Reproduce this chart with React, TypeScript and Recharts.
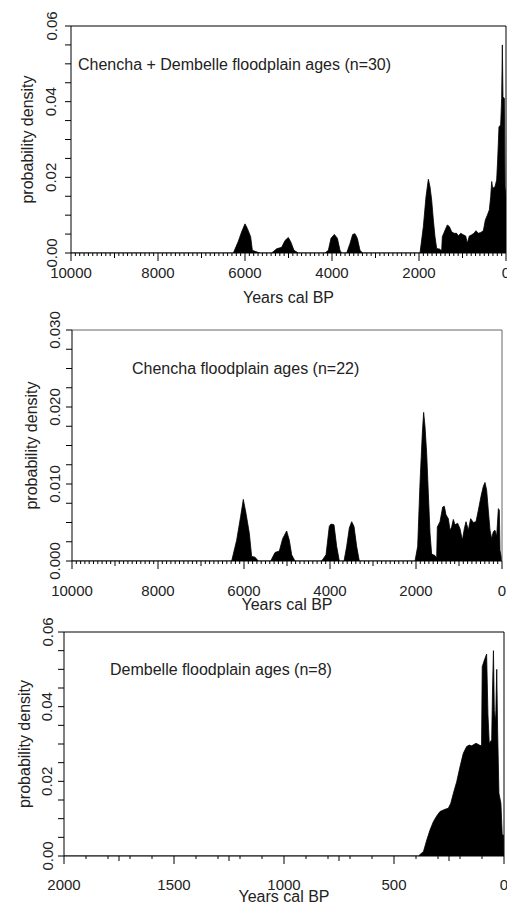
import React from 'react';
import { ComposedChart, Area, XAxis, YAxis, ReferenceLine, Label } from 'recharts';

const FONT = '"Liberation Sans", Arial, Helvetica, sans-serif';
const INK = '#000';
const TEXT = '#222';

// Summed probability, Chencha + Dembelle floodplain ages (years cal BP -> density)
const ALL_YEARS = [
  10000, 6268, 6153, 6077, 6000, 5946, 5870, 5831, 5732, 5655,
  5387, 5272, 5157, 5080, 5004, 4950, 4874, 4774,
  4161, 4084, 4023, 3946, 3877, 3816, 3778,
  3663, 3586, 3525, 3471, 3418, 3356, 3295,
  1977, 1900, 1839, 1785, 1747, 1709, 1670, 1632, 1594, 1517, 1479,
  1464, 1402, 1349, 1303, 1249, 1195, 1134, 1096, 1042, 981, 927, 889, 843, 789, 736, 690,
  636, 582, 521, 475, 429, 383, 352, 329, 307, 253, 215, 192, 161, 123, 100, 84, 69, 38, 23, 0,
];
const ALL_DENS = [
  0, 0, 0.0031, 0.0056, 0.0077, 0.0065, 0.0043, 0.0007, 0.0003, 0,
  0, 0.0011, 0.0015, 0.0033, 0.0041, 0.003, 0.0007, 0,
  0, 0.0007, 0.0039, 0.0049, 0.0039, 0.0007, 0,
  0, 0.0025, 0.0049, 0.0051, 0.0039, 0.0007, 0,
  0, 0.007, 0.0149, 0.0195, 0.0175, 0.014, 0.0087, 0.0043, 0.0012, 0.001, 0.0005,
  0.0043, 0.006, 0.0074, 0.007, 0.0056, 0.0052, 0.0052, 0.0045, 0.0052, 0.0048, 0.0045, 0.0026, 0.0045, 0.0048, 0.0052, 0.0059,
  0.0052, 0.0054, 0.0059, 0.0087, 0.01, 0.0114, 0.0149, 0.0189, 0.0171, 0.0175, 0.0193, 0.0246, 0.0334, 0.0338, 0.0409, 0.055, 0.0413, 0.0409, 0.0175, 0.015,
];

// Chencha floodplain ages
const CH_YEARS = [
  10000, 6287, 6171, 6078, 6016, 5954, 5876, 5822, 5744, 5667,
  5380, 5279, 5178, 5101, 5008, 4946, 4891, 4814,
  4194, 4093, 4016, 3977, 3907, 3845, 3783,
  3674, 3612, 3550, 3496, 3442, 3380, 3318,
  2023, 1961, 1907, 1853, 1822, 1791, 1752, 1713, 1674, 1636, 1558, 1519,
  1504, 1442, 1380, 1341, 1302, 1248, 1209, 1171, 1132, 1093, 1031, 977, 922, 876, 837, 783, 729, 667, 605,
  550, 488, 434, 395, 357, 318, 279, 240, 202, 163, 124, 85, 62, 47, 0,
];
const CH_DENS = [
  0, 0, 0.0027, 0.0058, 0.008, 0.0062, 0.0036, 0.0006, 0.0005, 0,
  0, 0.0011, 0.0013, 0.0029, 0.0039, 0.0027, 0.0008, 0,
  0, 0.0008, 0.0045, 0.0048, 0.0047, 0.0019, 0,
  0, 0.0019, 0.0043, 0.0051, 0.0045, 0.0019, 0,
  0, 0.0019, 0.0101, 0.0166, 0.0193, 0.0175, 0.014, 0.0088, 0.0036, 0.0009, 0.0007, 0.0004,
  0.0044, 0.0051, 0.007, 0.0071, 0.006, 0.0055, 0.004, 0.0044, 0.0054, 0.0047, 0.0049, 0.0042, 0.0027, 0.0042, 0.0051, 0.004, 0.0055, 0.005, 0.0051,
  0.0066, 0.0084, 0.0097, 0.0102, 0.0092, 0.0066, 0.004, 0.0029, 0.0038, 0.004, 0.0032, 0.0068, 0.0066, 0.0014, 0,
];

// Dembelle floodplain ages
const DB_YEARS = [
  2000, 389, 366, 351, 336, 321, 306, 291, 268, 253, 242, 230, 215, 200, 185, 170, 158, 147, 127, 112, 102,
  99, 89, 79, 73, 67, 56, 52, 48, 44, 38, 33, 29, 23, 14, 8, 2, 0,
];
const DB_DENS = [
  0, 0, 0.0012, 0.0043, 0.007, 0.0092, 0.0107, 0.0119, 0.0125, 0.0128, 0.0141, 0.0168, 0.0199, 0.0239, 0.0275, 0.0293, 0.0297, 0.0295, 0.0302, 0.0297, 0.0295,
  0.0507, 0.0525, 0.0541, 0.038, 0.0302, 0.0311, 0.045, 0.055, 0.039, 0.036, 0.05, 0.0338, 0.0168, 0.0141, 0.0056, 0.0056, 0,
];

const TITLES = [
  'Chencha + Dembelle floodplain ages (n=30)',
  'Chencha floodplain ages (n=22)',
  'Dembelle floodplain ages (n=8)',
];
const X_TITLE = 'Years cal BP';
const Y_TITLE = 'probability density';

const LONG_X_LABELS = [0, 2000, 4000, 6000, 8000, 10000];
const LONG_X_MID = [1000, 3000, 5000, 7000, 9000];
const SHORT_X_LABELS = [0, 500, 1000, 1500, 2000];
const SHORT_X_MID = [250, 750, 1250, 1750];
const Y_LABELS_06 = [0, 0.02, 0.04, 0.06];
const Y_LABELS_03 = [0, 0.01, 0.02, 0.03];

const steps = (max: number, step: number) =>
  Array.from({ length: Math.round(max / step) + 1 }, (_, i) => +(i * step).toFixed(6));

const near = (list: number[], v: number) => list.some((l) => Math.abs(l - v) < 1e-9);

const table = (years: number[], dens: number[]) => years.map((year, i) => ({ year, d: dens[i] }));

interface PanelProps {
  top: number;
  height: number;
  margin: { top: number; right: number; left: number; bottom: number };
  yAxisWidth: number;
  xAxisHeight: number;
  data: { year: number; d: number }[];
  xMax: number;
  xTicks: number[];
  xLabels: number[];
  xMid: number[];
  xLabelDy: number;
  xTitleDy: number;
  yMax: number;
  yTicks: number[];
  yLabels: number[];
  yDigits: number;
  yTickDx: number;
  yTitleDx: number;
  boxColor: string;
  title: string;
  titleX: number;
  titleTop: number;
}

const Panel = (p: PanelProps) => {
  const renderX = (props: any) => {
    const { x, y, payload } = props;
    const v = payload.value;
    const major = near(p.xLabels, v);
    const len = major ? 8 : near(p.xMid, v) ? 5 : 3;
    return (
      <g>
        <line x1={x} y1={y} x2={x} y2={y + len} stroke={INK} strokeWidth={1} />
        {major && (
          <text x={x} y={y + p.xLabelDy} textAnchor="middle" fontSize={15} fill={TEXT} fontFamily={FONT}>
            {v}
          </text>
        )}
      </g>
    );
  };

  const renderY = (props: any) => {
    const { x, y, payload } = props;
    const v = payload.value;
    const lab = near(p.yLabels, v);
    const cx = x + p.yTickDx;
    return (
      <g>
        <line x1={x - 6} y1={y} x2={x} y2={y} stroke={INK} strokeWidth={1} />
        {lab && (
          <text
            x={cx}
            y={y}
            transform={`rotate(-90 ${cx} ${y})`}
            textAnchor="middle"
            dominantBaseline="central"
            fontSize={15}
            fill={TEXT}
            fontFamily={FONT}
          >
            {v.toFixed(p.yDigits)}
          </text>
        )}
      </g>
    );
  };

  return (
    <div style={{ position: 'absolute', left: 0, top: p.top, width: 507, height: p.height }}>
      <ComposedChart width={507} height={p.height} data={p.data} margin={p.margin}>
        <XAxis
          type="number"
          dataKey="year"
          domain={[0, p.xMax]}
          reversed
          allowDataOverflow
          ticks={p.xTicks}
          interval={0}
          tickSize={0}
          tickMargin={0}
          tick={renderX}
          height={p.xAxisHeight}
          axisLine={{ stroke: INK, strokeWidth: 1 }}
        >
          <Label
            content={({ viewBox }: any) => (
              <text
                x={viewBox.x + viewBox.width / 2}
                y={viewBox.y + p.xTitleDy}
                textAnchor="middle"
                fontSize={16}
                fill={TEXT}
                fontFamily={FONT}
              >
                {X_TITLE}
              </text>
            )}
          />
        </XAxis>
        <YAxis
          type="number"
          domain={[0, p.yMax]}
          allowDataOverflow
          ticks={p.yTicks}
          interval={0}
          tickSize={0}
          tickMargin={0}
          tick={renderY}
          width={p.yAxisWidth}
          axisLine={{ stroke: INK, strokeWidth: 1 }}
        >
          <Label
            content={({ viewBox }: any) => {
              const cx = viewBox.x + viewBox.width + p.yTitleDx;
              const cy = viewBox.y + viewBox.height / 2;
              return (
                <text
                  x={cx}
                  y={cy}
                  transform={`rotate(-90 ${cx} ${cy})`}
                  textAnchor="middle"
                  dominantBaseline="central"
                  fontSize={16}
                  fill={TEXT}
                  fontFamily={FONT}
                >
                  {Y_TITLE}
                </text>
              );
            }}
          />
        </YAxis>
        <ReferenceLine y={p.yMax} stroke={p.boxColor} strokeWidth={1} />
        <ReferenceLine x={0} stroke={p.boxColor} strokeWidth={1} />
        <Area
          type="linear"
          dataKey="d"
          stroke={INK}
          strokeWidth={0.8}
          fill={INK}
          fillOpacity={1}
          dot={false}
          activeDot={false}
          isAnimationActive={false}
        />
      </ComposedChart>
      <div
        style={{
          position: 'absolute',
          left: p.titleX,
          top: p.titleTop,
          fontFamily: FONT,
          fontSize: 16,
          lineHeight: '16px',
          color: TEXT,
          whiteSpace: 'nowrap',
        }}
      >
        {p.title}
      </div>
    </div>
  );
};

export default function App() {
  const longTicks = steps(10000, 100);
  const shortTicks = [...steps(2000, 100), ...SHORT_X_MID].sort((a, b) => a - b);
  return (
    <div style={{ position: 'absolute', left: 0, top: 0, width: 507, height: 906, background: '#fff' }}>
      <Panel
        top={0}
        height={305}
        margin={{ top: 26, right: 1, left: 0, bottom: 0 }}
        yAxisWidth={71}
        xAxisHeight={52}
        data={table(ALL_YEARS, ALL_DENS)}
        xMax={10000}
        xTicks={longTicks}
        xLabels={LONG_X_LABELS}
        xMid={LONG_X_MID}
        xLabelDy={25}
        xTitleDy={50}
        yMax={0.06}
        yTicks={steps(0.06, 0.005)}
        yLabels={Y_LABELS_06}
        yDigits={2}
        yTickDx={-20}
        yTitleDx={-44}
        boxColor={INK}
        title={TITLES[0]}
        titleX={78}
        titleTop={57}
      />
      <Panel
        top={305}
        height={311}
        margin={{ top: 25, right: 5, left: 0, bottom: 6 }}
        yAxisWidth={72}
        xAxisHeight={49}
        data={table(CH_YEARS, CH_DENS)}
        xMax={10000}
        xTicks={longTicks}
        xLabels={LONG_X_LABELS}
        xMid={LONG_X_MID}
        xLabelDy={35}
        xTitleDy={49}
        yMax={0.03}
        yTicks={steps(0.03, 0.0025)}
        yLabels={Y_LABELS_03}
        yDigits={3}
        yTickDx={-18}
        yTitleDx={-41}
        boxColor="#666"
        title={TITLES[1]}
        titleX={132}
        titleTop={56}
      />
      <Panel
        top={610}
        height={296}
        margin={{ top: 22, right: 3, left: 0, bottom: 0 }}
        yAxisWidth={64}
        xAxisHeight={50}
        data={table(DB_YEARS, DB_DENS)}
        xMax={2000}
        xTicks={shortTicks}
        xLabels={SHORT_X_LABELS}
        xMid={SHORT_X_MID}
        xLabelDy={34}
        xTitleDy={46}
        yMax={0.06}
        yTicks={steps(0.06, 0.005)}
        yLabels={Y_LABELS_06}
        yDigits={2}
        yTickDx={-17}
        yTitleDx={-40}
        boxColor={INK}
        title={TITLES[2]}
        titleX={110}
        titleTop={52}
      />
    </div>
  );
}
